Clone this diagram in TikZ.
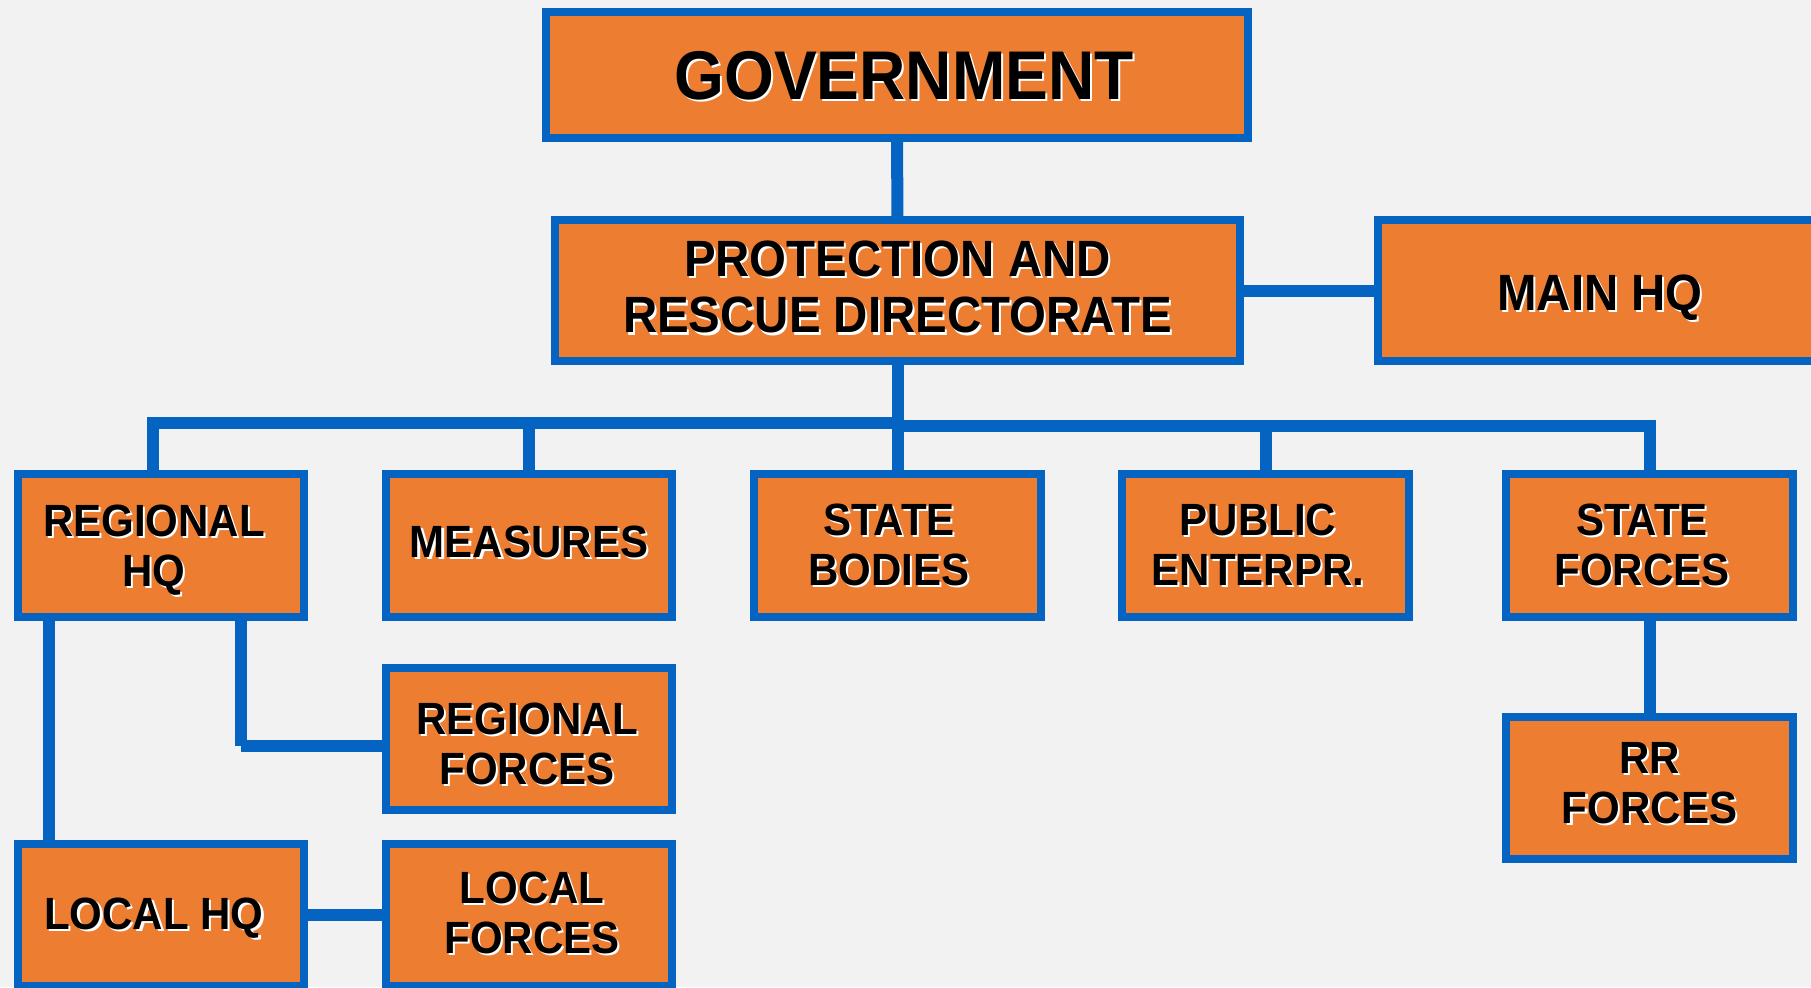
\documentclass[tikz,border=0pt]{standalone}
\usepackage{fontspec}
\setmainfont{Liberation Sans}[FakeStretch=0.93]
\usetikzlibrary{calc}

\definecolor{boxorange}{HTML}{ED7D31}
\definecolor{lineblue}{HTML}{0563C1}
\definecolor{bggray}{HTML}{F2F2F2}

% black text with a light shadow
\newcommand{\shtext}[1]{\leavevmode\rlap{\kern0.6pt\raisebox{-0.6pt}{\color{white}#1}}#1}

\begin{document}
\begin{tikzpicture}[x=0.01cm, y=-0.01cm,
		box/.style={draw=lineblue, line width=0.08cm, fill=boxorange, outer sep=0pt, inner sep=0pt,
			minimum width=2.865cm, minimum height=1.42cm},
		txt/.style={font=\bfseries\fontsize{12.85}{14.2}\selectfont, align=center, inner sep=0pt},
		bigtxt/.style={font=\bfseries\fontsize{14.5}{16.2}\selectfont},
		link/.style={draw=lineblue, line width=0.12cm}]
		\useasboundingbox (0,0) rectangle (1811,987);
		\clip (0,0) rectangle (1811,987);
		\fill[bggray] (0,0) rectangle (1811,987);
		
		% top two levels
		\node[box, minimum width=7.02cm, minimum height=1.26cm] (gov) at (897,75) {};
		\node[txt, font=\bfseries\fontsize{19.6}{22}\selectfont] (gov-t) at (904,77) {\shtext{GOVERNMENT}};
		
		\node[box, minimum width=6.85cm, minimum height=1.41cm] (prd) at (897.5,290.5) {};
		\node[txt, bigtxt] (prd-t) at (897.5,288) {\shtext{PROTECTION AND}\\\shtext{RESCUE DIRECTORATE}};
		
		\node[box, minimum width=4.52cm, minimum height=1.41cm] (mhq) at (1604,290.5) {};
		\node[txt, bigtxt] (mhq-t) at (1600,299) {\shtext{MAIN HQ}};
		
		% row of departments
		\node[box] (rhq)  at (161,545.5)    {};
		\node[box] (meas) at (529,545.5)    {};
		\node[box] (sbod) at (897.5,545.5)  {};
		\node[box] (pub)  at (1265.5,545.5) {};
		\node[box] (sfor) at (1649.5,545.5) {};
		
		\node[txt] (rhq-t)  at (154,551)  {\shtext{REGIONAL}\\\shtext{HQ}};
		\node[txt] (meas-t) at (529,543)  {\shtext{MEASURES}};
		\node[txt] (sbod-t) at (889,546)  {\shtext{STATE}\\\shtext{BODIES}};
		\node[txt] (pub-t)  at (1258,546) {\shtext{PUBLIC}\\\shtext{ENTERPR.}};
		\node[txt] (sfor-t) at (1642,546) {\shtext{STATE}\\\shtext{FORCES}};
		
		% lower levels
		\node[box] (rfor) at (529,739)    {};
		\node[box] (rr)   at (1649.5,788) {};
		\node[box] (lhq)  at (161,915)    {};
		\node[box] (lfor) at (529,915)    {};
		
		\node[txt] (rfor-t) at (527,745)  {\shtext{REGIONAL}\\\shtext{FORCES}};
		\node[txt] (rr-t)   at (1649.5,784) {\shtext{RR}\\\shtext{FORCES}};
		\node[txt] (lhq-t)  at (154,919)  {\shtext{LOCAL HQ}};
		\node[txt] (lfor-t) at (532,914)  {\shtext{LOCAL}\\\shtext{FORCES}};
		
		% connectors
		\coordinate (busL) at (153,423);
		\coordinate (busM) at (897.5,423);
		\coordinate (busR) at (1649.5,425.5);
		\coordinate (rcorner) at (241,746);
		
		\draw[link] (gov.south) -- (prd.north);
		\draw[link] (prd.east) -- (mhq.west);
		\draw[link] (prd.south) -- (sbod.north);
		\draw[link] (busL |- rhq.north) -- (busL) -- (busM);
		\draw[link] (busM |- busR) -- (busR) -- (sfor.north);
		\draw[link] (meas.north) -- (meas.north |- busL);
		\draw[link] (pub.north) -- (pub.north |- busR);
		
		\draw[link] (49,617) -- (lhq.north -| 49,0);
		\draw[link] (rcorner |- rhq.south) -- (rcorner);
		\draw[link] (rcorner) -- (rcorner -| rfor.west);
		\draw[link] (lhq.east) -- (lfor.west);
		\draw[link] (sfor.south) -- (rr.north);
		
	\end{tikzpicture}
\end{document}
